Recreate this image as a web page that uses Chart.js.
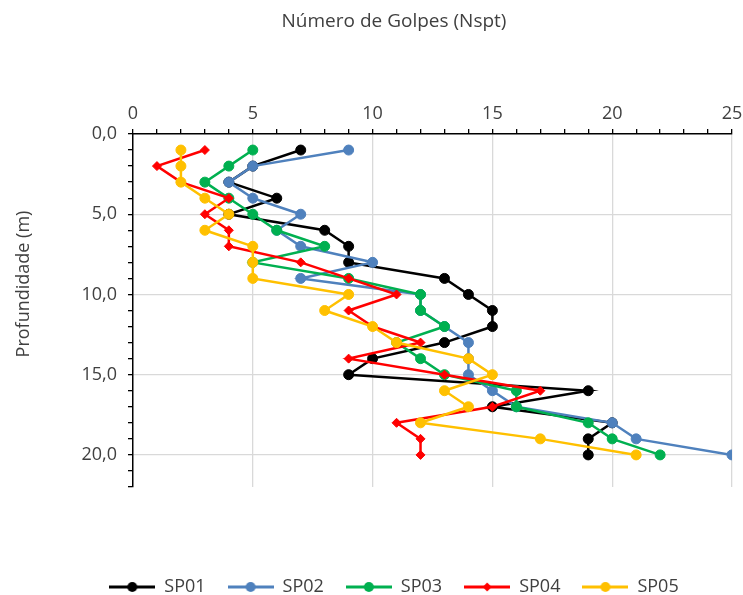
<!DOCTYPE html>
<html>
<head>
<meta charset="utf-8">
<script src="https://cdn.jsdelivr.net/npm/chart.js@4/dist/chart.umd.min.js"></script>
<style>
  html, body { margin: 0; padding: 0; background: #fff; }
  #wrap { width: 743px; height: 595px; }
</style>
</head>
<body>
<div id="wrap"><canvas id="sondagens"></canvas></div>
<script>
// profundidade (m) de cada leitura e Nspt por furo
const profundidade = [1, 2, 3, 4, 5, 6, 7, 8, 9, 10, 11, 12, 13, 14, 15, 16, 17, 18, 19, 20];
const sp01 = [7, 5, 4, 6, 4, 8, 9, 9, 13, 14, 15, 15, 13, 10, 9, 19, 15, 20, 19, 19];
const sp02 = [9, 5, 4, 5, 7, 6, 7, 10, 7, 12, 12, 13, 14, 14, 14, 15, 16, 20, 21, 25];
const sp03 = [5, 4, 3, 4, 5, 6, 8, 5, 9, 12, 12, 13, 11, 12, 13, 16, 16, 19, 20, 22];
const sp04 = [3, 1, 2, 4, 3, 4, 4, 7, 9, 11, 9, 10, 12, 9, 13, 17, 15, 11, 12, 12];
const sp05 = [2, 2, 2, 3, 4, 3, 5, 5, 5, 9, 8, 10, 11, 14, 15, 13, 14, 12, 17, 21];

const nomes = ['SP01', 'SP02', 'SP03', 'SP04', 'SP05'];
const series = [sp01, sp02, sp03, sp04, sp05];
const cores = ['#000000', '#4f81bd', '#00b050', '#ff0000', '#ffc000'];
const marcadores = ['circle', 'circle', 'circle', 'rectRot', 'circle'];

const tituloX = 'Número de Golpes (Nspt)';
const tituloY = 'Profundidade (m)';

const fonte = 'Open Sans, sans-serif';
const corTexto = '#404040';

function pontos(valores) {
    return valores.map((v, i) => ({x: v, y: profundidade[i]}));
}

// amostra da legenda: linha com o marcador no meio
function amostra(cor, marcador) {
    const c = document.createElement('canvas');
    c.width = 46;
    c.height = 12;
    const g = c.getContext('2d');
    g.strokeStyle = cor;
    g.lineWidth = 3;
    g.beginPath();
    g.moveTo(0, 6);
    g.lineTo(46, 6);
    g.stroke();
    g.fillStyle = cor;
    g.beginPath();
    if (marcador === 'rectRot') {
        g.moveTo(23, 1.5);
        g.lineTo(27.5, 6);
        g.lineTo(23, 10.5);
        g.lineTo(18.5, 6);
        g.closePath();
    } else {
        g.arc(23, 6, 5, 0, Math.PI * 2);
    }
    g.fill();
    return c;
}
const amostras = nomes.map((n, i) => amostra(cores[i], marcadores[i]));

const grade = ctx => (ctx.tick && ctx.tick.value % 5 === 0 && ctx.tick.value !== 0) ? '#d9d9d9' : 'rgba(0,0,0,0)';

// legenda fica mais abaixo, afastada da área do gráfico
const posLegenda = {
    id: 'posLegenda',
    afterLayout(chart) {
        const l = chart.legend;
        const dy = 556 - l.top;
        l.top += dy;
        l.bottom += dy;
        l.left += 28;
        l.right += 28;
    }
};

// títulos dos eixos, deslocados como no Excel
const titulosEixos = {
    id: 'titulosEixos',
    afterDraw(chart) {
        const g = chart.ctx;
        g.save();
        g.fillStyle = corTexto;
        g.textAlign = 'center';
        g.textBaseline = 'middle';
        g.font = '19px "Open Sans"';
        g.fillText(tituloX, 394, 22);
        g.translate(24, 284);
        g.rotate(-Math.PI / 2);
        g.font = '18px "Open Sans"';
        g.fillText(tituloY, 0, 0);
        g.restore();
    }
};

new Chart(document.getElementById('sondagens'), {
    type: 'scatter',
    data: {
        datasets: series.map((valores, i) => ({
            label: nomes[i],
            data: pontos(valores),
            showLine: true,
            borderColor: cores[i],
            backgroundColor: cores[i],
            borderWidth: 2.5,
            pointStyle: marcadores[i],
            pointRadius: marcadores[i] === 'rectRot' ? 4.5 : 5,
            pointBorderWidth: 1,
            order: nomes.length - i
        }))
    },
    options: {
        responsive: true,
        maintainAspectRatio: false,
        animation: false,
        layout: {padding: {top: 0, left: 0, right: 11, bottom: 58}},
        plugins: {
            tooltip: {enabled: false},
            legend: {
                position: 'bottom',
                labels: {
                    usePointStyle: true,
                    pointStyleWidth: 46,
                    padding: 22,
                    color: corTexto,
                    font: {family: fonte, size: 18},
                    sort: (a, b) => a.datasetIndex - b.datasetIndex,
                    generateLabels(chart) {
                        const itens = Chart.defaults.plugins.legend.labels.generateLabels(chart);
                        itens.forEach(it => { it.pointStyle = amostras[it.datasetIndex]; });
                        return itens;
                    }
                }
            }
        },
        scales: {
            x: {
                type: 'linear',
                position: 'top',
                min: 0,
                max: 25,
                afterFit: s => {
                    s.height = 134;
                    s.paddingRight = 0;
                },
                ticks: {
                    stepSize: 1,
                    autoSkip: false,
                    maxRotation: 0,
                    padding: 4,
                    color: corTexto,
                    font: {family: fonte, size: 18},
                    callback: v => v % 5 === 0 ? String(v) : ''
                },
                grid: {color: grade, lineWidth: 1.3, tickColor: '#000', tickLength: 5, tickWidth: 1.3},
                border: {color: '#000', width: 1.5}
            },
            y: {
                type: 'linear',
                reverse: true,
                min: 0,
                max: 22,
                afterFit: s => { s.width = 133; },
                ticks: {
                    stepSize: 1,
                    autoSkip: false,
                    padding: 11,
                    color: corTexto,
                    font: {family: fonte, size: 18},
                    callback: v => v % 5 === 0 ? v.toFixed(1).replace('.', ',') : ''
                },
                grid: {color: grade, lineWidth: 1.3, tickColor: '#000', tickLength: 5, tickWidth: 1.3},
                border: {color: '#000', width: 1.5}
            }
        }
    },
    plugins: [posLegenda, titulosEixos]
});
</script>
</body>
</html>
